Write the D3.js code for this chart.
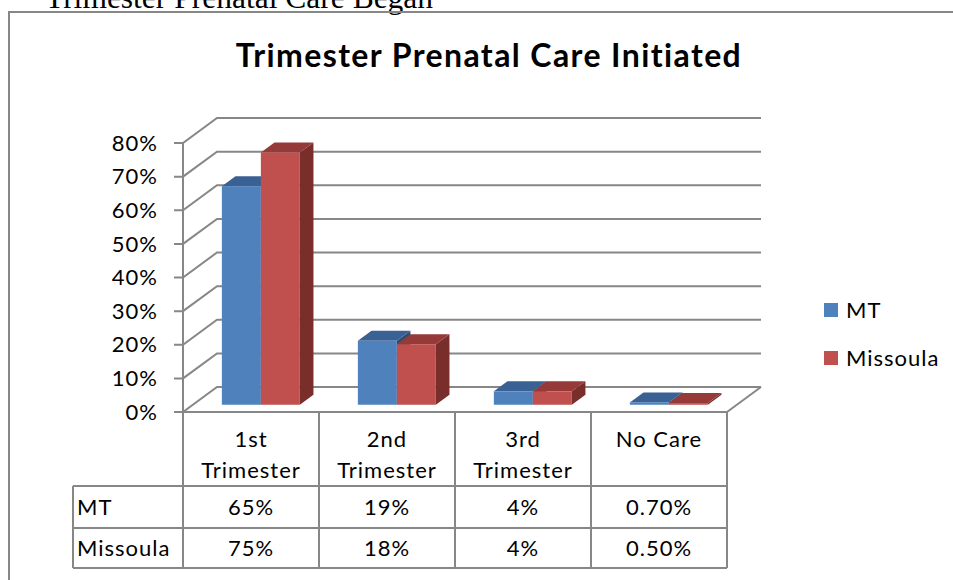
<!DOCTYPE html>
<html>
<head>
<meta charset="utf-8">
<script src="https://cdn.jsdelivr.net/npm/d3@7.9.0/dist/d3.min.js"></script>
<style>
  html, body { margin: 0; padding: 0; background: #fff; }
  svg { display: block; }
</style>
</head>
<body>
<svg id="chart" width="953" height="580"></svg>
<script>
// Data
const categories = ['1st Trimester', '2nd Trimester', '3rd Trimester', 'No Care'];
const categoryLines = [['1st', 'Trimester'], ['2nd', 'Trimester'], ['3rd', 'Trimester'], ['No Care']];
const seriesNames = ['MT', 'Missoula'];
const mtValues = [65, 19, 4, 0.7];
const missoulaValues = [75, 18, 4, 0.5];
const mtLabels = ['65%', '19%', '4%', '0.70%'];
const missoulaLabels = ['75%', '18%', '4%', '0.50%'];
const yTicks = [0, 10, 20, 30, 40, 50, 60, 70, 80];

const colors = {
    MT: { front: '#4F81BD', top: '#3A6194', side: '#2E4C72' },
    Missoula: { front: '#C0504D', top: '#953A38', side: '#7A2E2C' }
};
const gridColor = '#878787';
const font = 'Lato, "Open Sans", sans-serif';

const svg = d3.select('#chart');

// Scales (front plane)
const x = d3.scaleBand().domain(categories).range([183, 727]);
const y = d3.scaleLinear().domain([0, 80]).range([412, 143]);
const xSeries = d3.scaleBand().domain(seriesNames).range([0, 78]);

// Depth offset of the 3D box
const depth = { dx: 34, dy: -25 };
const off = (t) => [depth.dx * t, depth.dy * t];
const barFront = 0.29, barBack = 0.69;

// Page text above the chart box (clipped by the window)
svg.append('text')
    .attr('x', 45).attr('y', 8)
    .attr('font-family', '"Liberation Serif", "Times New Roman", serif')
    .attr('font-size', 31.5)
    .text('Trimester Prenatal Care Began');

// Chart frame
svg.append('rect')
    .attr('x', 9).attr('y', 12)
    .attr('width', 960).attr('height', 600)
    .attr('fill', 'none')
    .attr('stroke', gridColor)
    .attr('stroke-width', 2);

// Title
svg.append('text')
    .attr('x', 489).attr('y', 67)
    .attr('text-anchor', 'middle')
    .attr('font-family', font)
    .attr('font-weight', 'bold')
    .attr('font-size', 32)
    .attr('letter-spacing', 1.4)
    .text('Trimester Prenatal Care Initiated');

// Gridlines: tick, diagonal on side wall, line on back wall
const [bx, by] = off(1);
const backRight = 761;
const grid = svg.append('g')
    .attr('fill', 'none')
    .attr('stroke', gridColor)
    .attr('stroke-width', 2);

yTicks.forEach((t) => {
    const fy = y(t);
    grid.append('path')
        .attr('d', `M174,${fy} L183,${fy} L${183 + bx},${fy + by} L${backRight},${fy + by}`);
});

// Vertical axis
grid.append('line')
    .attr('x1', 183).attr('x2', 183)
    .attr('y1', y(80)).attr('y2', y(0));

// Floor right edge
grid.append('path')
    .attr('d', `M727,${y(0)} L${727 + bx},${y(0) + by}`);

// Y labels
svg.append('g')
    .selectAll('text')
    .data(yTicks)
    .join('text')
    .attr('x', 158)
    .attr('y', (d) => y(d))
    .attr('dy', '0.35em')
    .attr('text-anchor', 'end')
    .attr('font-family', font)
    .attr('font-size', 22)
    .attr('letter-spacing', 1)
    .text((d) => `${d}%`);

// Bars
const series = [
    { name: 'MT', values: mtValues },
    { name: 'Missoula', values: missoulaValues }
];
const bars = svg.append('g');
const [fx, fy0] = off(barFront);
const [kx, ky] = off(barBack);
const w = xSeries.bandwidth();

categories.forEach((c, i) => {
    const cx = x(c) + x.bandwidth() / 2 - 39;
    series.forEach((s) => {
        const col = colors[s.name];
        const x0 = cx + xSeries(s.name) + fx;
        const x1 = x0 + w;
        const yb = y(0) + fy0;
        const yt = y(s.values[i]) + fy0;
        const ddx = kx - fx, ddy = ky - fy0;
        // side
        bars.append('path')
            .attr('d', `M${x1},${yt} L${x1 + ddx},${yt + ddy} L${x1 + ddx},${yb + ddy} L${x1},${yb} Z`)
            .attr('fill', col.side);
        // top
        bars.append('path')
            .attr('d', `M${x0},${yt} L${x1},${yt} L${x1 + ddx},${yt + ddy} L${x0 + ddx},${yt + ddy} Z`)
            .attr('fill', col.top);
        // front
        bars.append('rect')
            .attr('x', x0).attr('y', yt)
            .attr('width', w).attr('height', Math.max(0, yb - yt))
            .attr('fill', col.front);
    });
});

// Data table
const rowTop = [486, 528];
const tableBottom = 568;
const tableLeft = 73;
const table = svg.append('g')
    .attr('stroke', gridColor)
    .attr('stroke-width', 2)
    .attr('fill', 'none');

table.append('line')
    .attr('x1', 183).attr('x2', 727)
    .attr('y1', y(0)).attr('y2', y(0));
[...rowTop, tableBottom].forEach((ry) => {
    table.append('line')
        .attr('x1', tableLeft).attr('x2', 727)
        .attr('y1', ry).attr('y2', ry);
});
table.append('line')
    .attr('x1', tableLeft).attr('x2', tableLeft)
    .attr('y1', rowTop[0]).attr('y2', tableBottom);
[...categories.map((c) => x(c)), 727].forEach((vx) => {
    table.append('line')
        .attr('x1', vx).attr('x2', vx)
        .attr('y1', y(0)).attr('y2', tableBottom);
});

const txt = svg.append('g')
    .attr('font-family', font)
    .attr('font-size', 22)
    .attr('letter-spacing', 1)
    .attr('fill', '#000');

categories.forEach((c, i) => {
    const cx = x(c) + x.bandwidth() / 2;
    categoryLines[i].forEach((line, j) => {
        txt.append('text')
            .attr('x', cx).attr('y', 439 + j * 31)
            .attr('dy', '0.35em')
            .attr('text-anchor', 'middle')
            .text(line);
    });
    txt.append('text')
        .attr('x', cx).attr('y', 507)
        .attr('dy', '0.35em')
        .attr('text-anchor', 'middle')
        .text(mtLabels[i]);
    txt.append('text')
        .attr('x', cx).attr('y', 548)
        .attr('dy', '0.35em')
        .attr('text-anchor', 'middle')
        .text(missoulaLabels[i]);
});

seriesNames.forEach((name, i) => {
    txt.append('text')
        .attr('x', 77).attr('y', 507 + i * 41)
        .attr('dy', '0.35em')
        .text(name);
});

// Legend
const legend = svg.append('g');
seriesNames.forEach((name, i) => {
    const ly = 310 + i * 48;
    legend.append('rect')
        .attr('x', 824).attr('y', ly - 7)
        .attr('width', 14).attr('height', 14)
        .attr('fill', colors[name].front);
    legend.append('text')
        .attr('x', 846).attr('y', ly)
        .attr('dy', '0.35em')
        .attr('font-family', font)
        .attr('font-size', 22)
        .attr('letter-spacing', 1)
        .text(name);
});
</script>
</body>
</html>
